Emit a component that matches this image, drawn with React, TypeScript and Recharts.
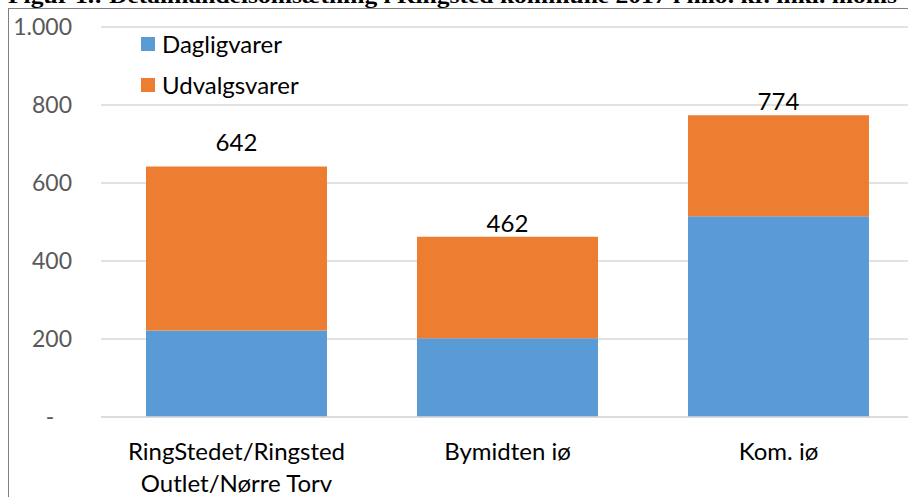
import React from "react";
import { BarChart, Bar, XAxis, YAxis, CartesianGrid, LabelList } from "recharts";

const categories = ["RingStedet/Ringsted\nOutlet/Nørre Torv", "Bymidten iø", "Kom. iø"];
const dagligvarer = [222, 202, 515];
const udvalgsvarer = [420, 260, 259];
const totals = [642, 462, 774];
const yTicks = [0, 200, 400, 600, 800, 1000];
const seriesNames = ["Dagligvarer", "Udvalgsvarer"];
const titleText = "Figur 1.: Detailhandelsomsætning i Ringsted kommune 2017 i mio. kr. inkl. moms";

const COLORS = ["#5B9BD5", "#ED7D31"];
const FONT = "Lato, 'Open Sans', sans-serif";
const FS = 24;
const labelOffsets = [25, 14, 15];

const data = categories.map((c, i) => ({
  name: c,
  dagligvarer: dagligvarer[i],
  udvalgsvarer: udvalgsvarer[i],
  total: totals[i],
}));

const fmtY = (v: number) => {
  if (v === 0) return "-\u00A0\u00A0\u00A0";
  return v >= 1000 ? v.toLocaleString("da-DK") : String(v);
};

const XTick = (props: any) => {
  const { x, payload } = props;
  const lines = String(payload.value).split("\n");
  const baseY = 417;
  return (
    <text x={x} y={baseY} textAnchor="middle" fill="#000" fontFamily={FONT} fontSize={FS}>
      {lines.map((l: string, i: number) => (
        <tspan key={i} x={x} dy={i === 0 ? 43 : 32}>
          {l}
        </tspan>
      ))}
    </text>
  );
};

const TotalLabel = (props: any) => {
  const { x, y, width, index } = props;
  return (
    <text
      x={x + width / 2}
      y={y - labelOffsets[index]}
      textAnchor="middle"
      dominantBaseline="central"
      fill="#000"
      fontFamily={FONT}
      fontSize={FS}
    >
      {totals[index]}
    </text>
  );
};

const LegendBox = () => (
  <div style={{ position: "absolute", left: 141, top: 24, fontFamily: FONT, fontSize: FS, color: "#000" }}>
    {seriesNames.map((n, i) => (
      <div key={n} style={{ display: "flex", alignItems: "center", height: 40.5 }}>
        <div style={{ width: 14, height: 14, background: COLORS[i], marginRight: 7 }} />
        <span style={{ lineHeight: "24px" }}>{n}</span>
      </div>
    ))}
  </div>
);

export default function App() {
  return (
    <div style={{ position: "absolute", left: 0, top: 0, width: 908, height: 497, overflow: "hidden", background: "#fff" }}>
      <svg style={{ position: "absolute", left: 0, top: 0 }} width={908} height={20}>
        <text
          x={8}
          y={3}
          fontFamily="'Liberation Serif', serif"
          fontWeight="bold"
          fontSize={21}
          fill="#000"
          textLength={889}
          lengthAdjust="spacingAndGlyphs"
        >
          {titleText}
        </text>
      </svg>
      <div
        style={{
          position: "absolute",
          left: 8,
          top: 8,
          width: 1000,
          height: 600,
          borderLeft: "1px solid #808080",
          borderTop: "1px solid #808080",
        }}
      />
      <div style={{ position: "absolute", left: 0, top: 0 }}>
        <BarChart
          width={922}
          height={497}
          data={data}
          margin={{ top: 27, right: 8, bottom: 0, left: 0 }}
          barCategoryGap="16.6%"
        >
          <CartesianGrid vertical={false} stroke="#d9d9d9" strokeWidth={1.5} />
          <XAxis
            dataKey="name"
            height={80}
            axisLine={{ stroke: "#d9d9d9", strokeWidth: 1.5 }}
            tickLine={false}
            tick={<XTick />}
            interval={0}
          />
          <YAxis
            width={101}
            domain={[0, 1000]}
            ticks={yTicks}
            tickFormatter={fmtY}
            axisLine={false}
            tickLine={false}
            tickSize={0}
            tickMargin={29}
            tick={{ fill: "#595959", fontFamily: FONT, fontSize: 23 }}
          />
          <Bar dataKey="dagligvarer" name={seriesNames[0]} stackId="a" fill={COLORS[0]} isAnimationActive={false} />
          <Bar dataKey="udvalgsvarer" name={seriesNames[1]} stackId="a" fill={COLORS[1]} isAnimationActive={false}>
            <LabelList dataKey="total" content={<TotalLabel />} />
          </Bar>
        </BarChart>
      </div>
      <LegendBox />
    </div>
  );
}
